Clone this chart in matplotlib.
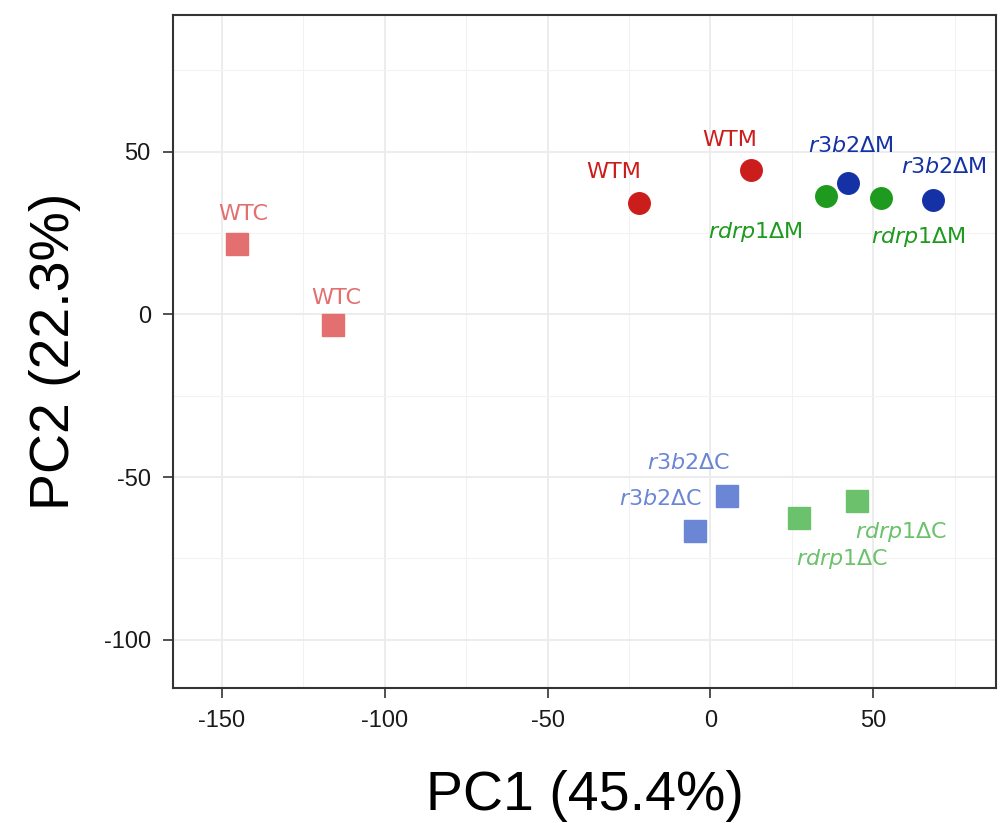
import numpy as np
import matplotlib.pyplot as plt
from matplotlib.ticker import MultipleLocator

plt.rcParams['axes.unicode_minus'] = False

# PCA scores
samples = ["WTC", "WTC", "WTM", "WTM",
           "rdrp1M", "rdrp1M", "r3b2M", "r3b2M",
           "r3b2C", "r3b2C", "rdrp1C", "rdrp1C"]
pc1 = [-145.4, -116.0, -21.8, 12.6, 35.6, 52.5, 42.3, 68.4, 5.2, -4.6, 27.3, 45.1]
pc2 = [21.5, -3.4, 34.1, 44.3, 36.3, 35.6, 40.3, 35.0, -55.9, -66.7, -62.7, -57.5]

group_label = {
    "WTC": "WTC",
    "WTM": "WTM",
    "rdrp1M": r"$\it{rdrp1}$ΔM",
    "r3b2M": r"$\it{r3b2}$ΔM",
    "r3b2C": r"$\it{r3b2}$ΔC",
    "rdrp1C": r"$\it{rdrp1}$ΔC",
}
group_color = {
    "WTC": "#E46F70",
    "WTM": "#CC1D1D",
    "rdrp1M": "#1E9A1E",
    "r3b2M": "#1432A6",
    "r3b2C": "#6C86D6",
    "rdrp1C": "#6CC26C",
}
group_marker = {"WTC": "s", "WTM": "o", "rdrp1M": "o", "r3b2M": "o",
                "r3b2C": "s", "rdrp1C": "s"}

# label offsets in pixels (repel-like placement)
offsets = [(6, 30), (4, 27), (-26, 31), (-22, 30),
           (-71, -36), (37, -39), (3, 37), (11, 33),
           (-39, 33), (-35, 32), (43, -41), (44, -31)]

fig = plt.figure(figsize=(10, 8.23), dpi=100)
ax = fig.add_axes([0.173, 0.164, 0.823, 0.818])

for i in range(len(samples)):
    g = samples[i]
    ax.plot(pc1[i], pc2[i], marker=group_marker[g], color=group_color[g],
            markersize=15.5, linestyle="none", zorder=3)
    ax.annotate(group_label[g], (pc1[i], pc2[i]), xytext=offsets[i],
                textcoords="offset pixels", ha="center", va="center",
                color=group_color[g], fontsize=16, family="DejaVu Sans",
                zorder=4)

ax.set_xlim(-165, 87.7)
ax.set_ylim(-114.8, 92)
ax.xaxis.set_major_locator(MultipleLocator(50))
ax.yaxis.set_major_locator(MultipleLocator(50))
ax.xaxis.set_minor_locator(MultipleLocator(25))
ax.yaxis.set_minor_locator(MultipleLocator(25))
ax.grid(which="major", color="#EBEBEB", linewidth=1.3)
ax.grid(which="minor", color="#F2F2F2", linewidth=0.8)
ax.set_axisbelow(True)
ax.tick_params(which="minor", length=0)
ax.tick_params(which="major", length=7, width=1.2, color="#333333",
               labelsize=17, labelcolor="#1a1a1a", pad=9)
for lab in ax.get_xticklabels() + ax.get_yticklabels():
    lab.set_family("Liberation Sans")
for sp in ax.spines.values():
    sp.set_color("#333333")
    sp.set_linewidth(1.5)

ax.set_xlabel("PC1 (45.4%)", fontsize=40, family="Liberation Sans", labelpad=27)
ax.set_ylabel("PC2 (22.3%)", fontsize=40, family="Liberation Sans", labelpad=16)

fig.savefig("out.png", dpi=100)
